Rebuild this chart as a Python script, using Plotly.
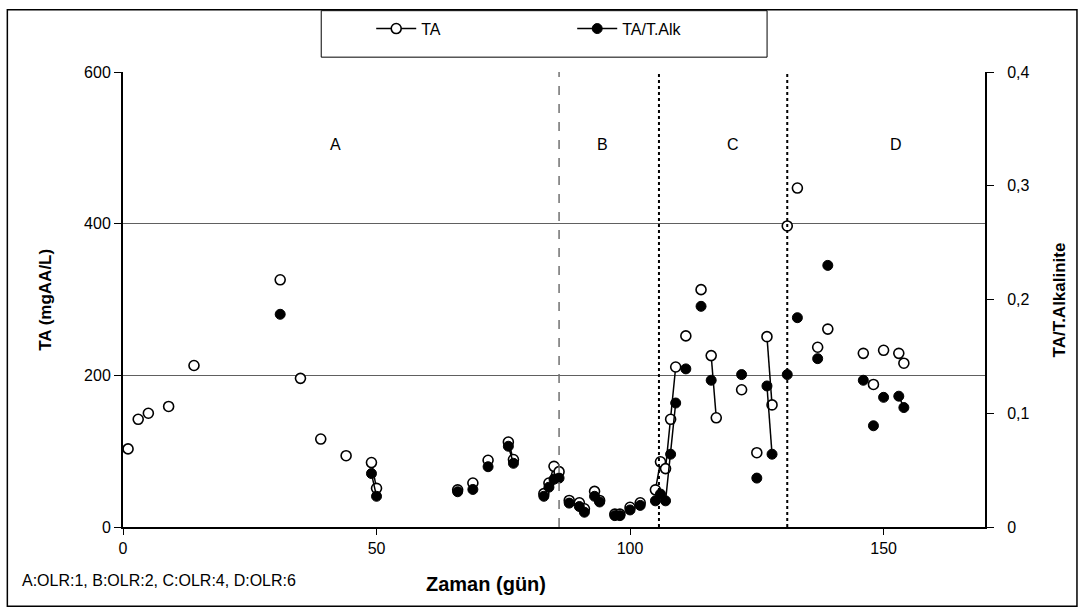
import plotly.graph_objects as go

# Sampling days and measured values
days = [1, 3, 5, 9, 14, 31, 35, 39, 44, 49, 50, 66, 69, 72, 76, 77, 83, 84, 85, 86,
        88, 90, 91, 93, 94, 97, 98, 100, 102, 105, 106, 107, 108, 109, 111, 114, 116,
        117, 122, 125, 127, 128, 131, 133, 137, 139, 146, 148, 150, 153, 154]

ta = [103, 142, 150, 159, 213, 326, 196, 116, 94, 85, 51, 49, 58, 88, 112, 89, 44, 58,
      80, 73, 35, 32, 24, 47, 35, 17, 17, 26, 32, 49, 86, 77, 142, 211, 252, 313, 226,
      144, 181, 98, 251, 161, 397, 447, 237, 261, 229, 188, 233, 229, 216]

ta_alk = [None, None, None, None, None, 0.187, None, None, None, 0.047, 0.027, 0.031,
          0.033, 0.053, 0.071, 0.056, 0.027, 0.035, 0.042, 0.043, 0.021, 0.018, 0.013,
          0.027, 0.022, 0.010, 0.010, 0.015, 0.019, 0.023, 0.029, 0.023, 0.064, 0.109,
          0.139, 0.194, 0.129, None, 0.134, 0.043, 0.124, 0.064, 0.134, 0.184, 0.148,
          0.230, 0.129, 0.089, 0.114, 0.115, 0.105]

ta_ticks = [0, 200, 400, 600]
ratio_ticks = [0, 0.1, 0.2, 0.3, 0.4]
ratio_ticktext = ["0", "0,1", "0,2", "0,3", "0,4"]
day_ticks = [0, 50, 100, 150]

# Period labels and boundaries (days)
periods = ["A", "B", "C", "D"]
period_centres = [42, 94.5, 120.3, 152.4]


def consecutive_runs(xs, ys):
    """Break the line wherever a day is skipped or a value is missing."""
    ox, oy = [], []
    prev = None
    for d, v in zip(xs, ys):
        if v is None:
            continue
        if prev is not None and d - prev > 1:
            ox.append(None)
            oy.append(None)
        ox.append(d)
        oy.append(v)
        prev = d
    return ox, oy


FONT = "Liberation Sans, Arial, sans-serif"

x1, y1 = consecutive_runs(days, ta)
x2, y2 = consecutive_runs(days, ta_alk)

fig = go.Figure()
fig.add_trace(go.Scatter(
    x=x1, y=y1, name="TA", mode="lines+markers", connectgaps=False,
    line=dict(color="black", width=1.5),
    marker=dict(symbol="circle", size=10, color="white",
                line=dict(color="black", width=1.6)),
))
fig.add_trace(go.Scatter(
    x=x2, y=y2, name="TA/T.Alk", mode="lines+markers", connectgaps=False,
    yaxis="y2",
    line=dict(color="black", width=1.5),
    marker=dict(symbol="circle", size=10, color="black",
                line=dict(color="black", width=1)),
))

# plot area spans 123..985 px horizontally and 67..527 px vertically
PL, PR, PT, PB = 122.7, 985.0, 67.0, 527.0
PW, PH = PR - PL, PB - PT


def px(xp):
    return (xp - PL) / PW


def py(yp):
    return (PB - yp) / PH


shapes = [
    # outer chart frame
    dict(type="rect", xref="paper", yref="paper",
         x0=px(7), x1=px(1077), y0=py(607), y1=py(4),
         line=dict(color="black", width=1.5), layer="below"),
    # legend frame
    dict(type="rect", xref="paper", yref="paper",
         x0=px(321), x1=px(767), y0=py(52), y1=py(5),
         line=dict(color="black", width=1), fillcolor="white", layer="below"),
    # period boundaries
    dict(type="line", xref="x", yref="paper", x0=86, x1=86, y0=0, y1=1,
         line=dict(color="#707070", width=1.5, dash="dash")),
    dict(type="line", xref="x", yref="paper", x0=105.7, x1=105.7, y0=0, y1=1,
         line=dict(color="black", width=2, dash="dot")),
    dict(type="line", xref="x", yref="paper", x0=131, x1=131, y0=0, y1=1,
         line=dict(color="black", width=2, dash="dot")),
]

annotations = []
for lab, xc in zip(periods, period_centres):
    annotations.append(dict(x=xc, y=505, xref="x", yref="y", text=lab,
                            xanchor="center", yanchor="middle",
                            showarrow=False, font=dict(size=16, color="black")))

annotations += [
    dict(x=px(45), y=0.5, xref="paper", yref="paper", text="<b>TA (mgAA/L)</b>",
         xanchor="center", yanchor="middle",
         textangle=-90, showarrow=False, font=dict(size=17, color="black")),
    dict(x=px(1060), y=0.5, xref="paper", yref="paper", text="<b>TA/T.Alkalinite</b>",
         xanchor="center", yanchor="middle",
         textangle=-90, showarrow=False, font=dict(size=17, color="black")),
    dict(x=px(486), y=py(585), xref="paper", yref="paper", text="<b>Zaman (gün)</b>",
         xanchor="center", yanchor="middle",
         showarrow=False, font=dict(size=20, color="black")),
    dict(x=px(20), y=py(581), xref="paper", yref="paper", xanchor="left",
         yanchor="middle", text="A:OLR:1, B:OLR:2, C:OLR:4, D:OLR:6",
         showarrow=False, font=dict(size=16, color="black")),
]

fig.update_layout(
    width=1086, height=613, autosize=False,
    margin=dict(l=PL, r=1086 - PR, t=PT, b=613 - PB, pad=0),
    paper_bgcolor="white", plot_bgcolor="white",
    font=dict(family=FONT, size=16, color="black"),
    showlegend=True,
    legend=dict(orientation="h", x=px(371), y=py(6), xanchor="left", yanchor="top",
                borderwidth=0, bgcolor="rgba(0,0,0,0)",
                font=dict(size=16), entrywidth=146, itemwidth=40),
    xaxis=dict(range=[0, 170], tickvals=day_ticks, ticks="outside", ticklen=6,
               tickcolor="black", showline=True, linecolor="black", linewidth=2,
               showgrid=False, zeroline=False),
    yaxis=dict(range=[0, 600], tickvals=ta_ticks, ticks="outside", ticklen=7,
               tickcolor="black", showline=True, linecolor="black", linewidth=2,
               showgrid=True, gridcolor="#606060", gridwidth=1, zeroline=False),
    yaxis2=dict(range=[0, 0.4], tickvals=ratio_ticks, ticktext=ratio_ticktext,
                overlaying="y", side="right", ticks="outside", ticklen=7,
                ticklabelstandoff=10,
                tickcolor="black", showline=True, linecolor="black", linewidth=2,
                showgrid=False, zeroline=False),
    shapes=shapes,
    annotations=annotations,
)

fig.write_html("out.html")
